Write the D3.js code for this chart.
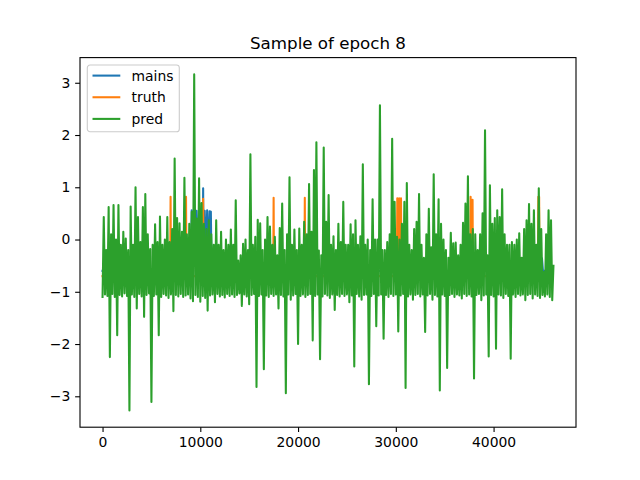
<!DOCTYPE html>
<html>
<head>
<meta charset="utf-8">
<script src="https://cdn.jsdelivr.net/npm/d3@7"></script>
<style>
  body { margin: 0; background: #fff; }
  svg { display: block; }
  text { font-family: "DejaVu Sans", sans-serif; fill: #000; }
</style>
</head>
<body>
<script>
// chart values
const title = "Sample of epoch 8";
const seriesNames = ["mains", "truth", "pred"];
const seriesColors = ["#1f77b4", "#ff7f0e", "#2ca02c"];
const xTicks = [0, 10000, 20000, 30000, 40000];
const yTicks = [-3, -2, -1, 0, 1, 2, 3];

// pred: top and bottom of the trace in each 250-sample bin
const binStep = 250;
const predHi = [
  0.43, -0.2, 0.62, 0.1, 0.66, 0.0, 0.66, -0.1, 0.15, 0.02,
  -0.2, 0.63, -0.1, 1.0, 0.43, -0.05, 0.62, 0.87, 0.1, -0.18,
  -0.1, 0.29, -0.05, 0.44, -0.1, 0.0, 0.43, -0.05, 0.2, 1.55,
  0.41, 0.31, 0.15, 1.18, 0.1, 0.3, 0.53, 3.16, 0.4, 1.17,
  0.7, 0.3, 0.2, 0.37, 0.1, -0.1, 0.37, -0.1, 0.15, -0.2,
  0.0, -0.1, 0.19, -0.1, 0.75, -0.4, -0.3, -0.08, 0.0, -0.2,
  1.63, -0.1, 0.05, 0.38, 0.31, -0.2, 0.0, 0.43, 0.25, -0.1,
  0.05, -0.3, 0.22, 0.69, -0.2, 0.1, 1.19, -0.1, 0.19, -0.2,
  0.21, -0.1, 0.34, 0.1, 1.06, 0.15, 1.33, 1.86, -0.21, -0.3,
  1.76, 0.34, 0.85, -0.1, 0.06, -0.2, 0.3, -0.05, 0.72, -0.1,
  -0.1, 0.29, 0.1, 0.37, -0.1, 0.06, 1.44, -0.1, 0.0, -0.2,
  0.77, 0.0, 0.0, 2.57, -0.2, -0.2, -0.05, 0.1, 1.93, 0.72,
  0.05, 0.0, 0.3, 0.72, 1.08, -0.1, -0.2, 0.2, 0.34, 0.87,
  -0.1, -0.35, 0.1, 0.59, -0.15, 1.25, 0.1, 0.77, 0.3, 0.0,
  -0.2, -0.35, 0.13, -0.07, -0.06, -0.3, -0.1, 0.32, 0.69, 1.21,
  0.1, 0.2, 0.1, -0.2, 0.1, 0.5, 2.09, -0.3, 1.04, 0.3,
  0.41, 0.56, 0.43, 0.96, 0.1, -0.1, -0.1, -0.05, -0.1, 0.0,
  0.12, -0.35, 0.2, 0.37, 0.68, 0.3, 0.56, -0.1, 0.98, 0.2,
  -0.62, 0.1, 0.56, 0.37, -0.5
];
const predLo = [
  -1.1, -1.05, -1.08, -2.25, -1.04, -1.1, -1.83, -1.06, -1.09, -1.03,
  -1.08, -3.27, -1.05, -1.1, -1.32, -1.04, -1.09, -1.48, -1.06, -1.03,
  -3.11, -1.08, -1.05, -1.83, -1.1, -1.04, -1.07, -1.12, -1.05, -1.37,
  -1.06, -1.09, -1.04, -1.1, -1.07, -1.05, -1.13, -1.18, -1.06, -1.1,
  -1.19, -1.08, -1.12, -1.36, -1.07, -1.05, -1.2, -1.04, -1.09, -1.06,
  -1.11, -1.04, -1.08, -1.05, -1.1, -1.06, -1.03, -1.27, -1.05, -1.09,
  -1.24, -1.06, -1.04, -2.82, -1.08, -1.05, -2.48, -1.07, -1.1, -1.04,
  -1.08, -1.05, -1.32, -1.06, -1.09, -2.94, -1.05, -1.15, -1.07, -1.04,
  -2.0, -1.08, -1.05, -1.1, -1.06, -1.04, -1.93, -1.08, -1.05, -2.29,
  -1.09, -1.04, -1.07, -1.12, -1.05, -1.35, -1.06, -1.09, -1.04, -1.08,
  -1.05, -1.2, -1.07, -2.43, -1.04, -1.09, -1.15, -1.06, -1.05, -2.77,
  -1.08, -1.04, -1.66, -1.07, -1.05, -1.9, -1.06, -1.1, -1.04, -1.08,
  -1.05, -1.76, -1.07, -1.04, -2.84, -1.09, -1.05, -1.15, -1.06, -1.04,
  -1.09, -1.05, -1.77, -1.07, -1.04, -1.15, -1.06, -1.09, -2.89, -1.05,
  -1.08, -2.46, -1.06, -1.04, -1.1, -1.05, -1.07, -1.13, -1.04, -1.08,
  -1.05, -1.09, -2.66, -1.06, -1.04, -1.16, -1.07, -1.05, -2.24, -1.06,
  -1.09, -2.09, -1.05, -1.07, -1.12, -1.04, -1.08, -2.28, -1.05, -1.1,
  -1.04, -1.07, -1.05, -1.16, -1.06, -1.04, -1.13, -1.05, -1.08, -1.12,
  -1.06, -1.09, -1.05, -1.1, -1.16
];

// truth: only its spikes show above the pred band
const truthX = [0, 6920, 6960, 7000, 8500, 8540, 8580, 10250, 10290, 10330,
  17460, 17500, 17540, 20650, 20690, 20730,
  30110, 30150, 30250, 30340, 30440, 30530, 30570,
  37610, 37650, 37750, 37850, 37890, 44540, 44580, 44660, 44700, 46000];
const truthY = [-0.7, -0.7, 0.82, -0.7, -0.7, 0.82, -0.7, -0.7, 0.78, -0.7,
  -0.7, 0.8, -0.7, -0.7, 0.8, -0.7,
  -0.7, 0.79, -0.4, 0.79, -0.4, 0.79, -0.7,
  -0.7, 0.82, -0.3, 0.76, -0.7, -0.7, 0.82, 0.82, -0.7, -0.7];

// mains: visible block around 9000-11000 and a small bump near 45000
const mainsX = [0, 9050, 9120, 9250, 9380, 9500, 9620, 9750, 9880, 10000,
  10130, 10250, 10290, 10330, 10450, 10580, 10700, 10830, 10950, 11080,
  11150, 44850, 44950, 45050, 46000];
const mainsY = [-0.6, -0.6, 0.56, -0.4, 0.58, -0.4, 0.55, -0.4, 0.57, -0.4,
  0.56, -0.4, 0.98, -0.4, 0.55, -0.4, 0.56, -0.4, 0.54, 0.53,
  -0.6, -0.6, -0.36, -0.6, -0.6];

// build point lists
let predPts = [];
for (let i = 0; i < predHi.length; i++) {
  predPts.push([i * binStep, predLo[i]]);
  predPts.push([i * binStep + binStep / 2, predHi[i]]);
}
let truthPts = truthX.map(function(x, i) { return [x, truthY[i]]; });
let mainsPts = mainsX.map(function(x, i) { return [x, mainsY[i]]; });
let allSeries = [mainsPts, truthPts, predPts];

var width = 640, height = 480;
var margin = {top: 57.6, right: 64, bottom: 52.8, left: 80};
var plotW = width - margin.left - margin.right,
    plotH = height - margin.top - margin.bottom;

var allPts = [].concat(mainsPts, truthPts, predPts);
var xExt = d3.extent(allPts, function(d) { return d[0]; });
var yExt = d3.extent(allPts, function(d) { return d[1]; });
var xPad = (xExt[1] - xExt[0]) * 0.05, yPad = (yExt[1] - yExt[0]) * 0.05;

var xScale = d3.scaleLinear().domain([xExt[0] - xPad, xExt[1] + xPad]).range([0, plotW]);
var yScale = d3.scaleLinear().domain([yExt[0] - yPad, yExt[1] + yPad]).range([plotH, 0]);

var svg = d3.select("body").append("svg")
    .attr("width", width)
    .attr("height", height);

svg.append("defs").append("clipPath").attr("id", "clip")
  .append("rect").attr("width", plotW).attr("height", plotH);

var g = svg.append("g")
    .attr("transform", "translate(" + margin.left + "," + margin.top + ")");

var line = d3.line()
    .x(function(d) { return xScale(d[0]); })
    .y(function(d) { return yScale(d[1]); });

g.append("g").attr("clip-path", "url(#clip)")
  .selectAll("path")
  .data(allSeries)
  .enter()
  .append("path")
    .attr("d", line)
    .attr("fill", "none")
    .attr("stroke", function(d, i) { return seriesColors[i]; })
    .attr("stroke-width", 2.08)
    .attr("stroke-linejoin", "round")
    .attr("stroke-linecap", "square");

var tickLen = 4.86, tickPad = 4.86;
var xAxis = d3.axisBottom(xScale).tickValues(xTicks).tickSize(tickLen).tickPadding(tickPad).tickFormat(d3.format("d"));
var yAxis = d3.axisLeft(yScale).tickValues(yTicks).tickSize(tickLen).tickPadding(tickPad).tickFormat(d3.format("d"));

var gx = g.append("g")
    .attr("transform", "translate(0," + plotH + ")")
    .call(xAxis);
var gy = g.append("g").call(yAxis);

[gx, gy].forEach(function(a) {
  a.select(".domain").remove();
  a.selectAll("line").attr("stroke", "#000").attr("stroke-width", 1.1);
  a.selectAll("text").attr("font-size", "13.9px").attr("font-family", "DejaVu Sans");
});

// frame
g.append("rect")
  .attr("width", plotW).attr("height", plotH)
  .attr("fill", "none").attr("stroke", "#000").attr("stroke-width", 1.1);

// title
svg.append("text")
  .attr("x", margin.left + plotW / 2)
  .attr("y", margin.top - 8.5)
  .attr("text-anchor", "middle")
  .attr("font-size", "16.7px")
  .text(title);

// legend
var leg = g.append("g").attr("transform", "translate(7.3,7.4)");
leg.append("rect")
  .attr("width", 92).attr("height", 66.7)
  .attr("rx", 2.8).attr("ry", 2.8)
  .attr("fill", "#fff").attr("fill-opacity", 0.8)
  .attr("stroke", "#cccccc").attr("stroke-width", 1.1);

var rows = leg.selectAll("g.row")
  .data(seriesNames)
  .enter()
  .append("g")
    .attr("class", "row")
    .attr("transform", function(d, i) { return "translate(0," + (10.6 + i * 21.65) + ")"; });

rows.append("line")
  .attr("x1", 5.2).attr("x2", 33)
  .attr("stroke", function(d, i) { return seriesColors[i]; })
  .attr("stroke-width", 2.08);

rows.append("text")
  .attr("x", 44.2)
  .attr("dy", "0.36em")
  .attr("font-size", "13.9px")
  .text(function(d) { return d; });
</script>
</body>
</html>
